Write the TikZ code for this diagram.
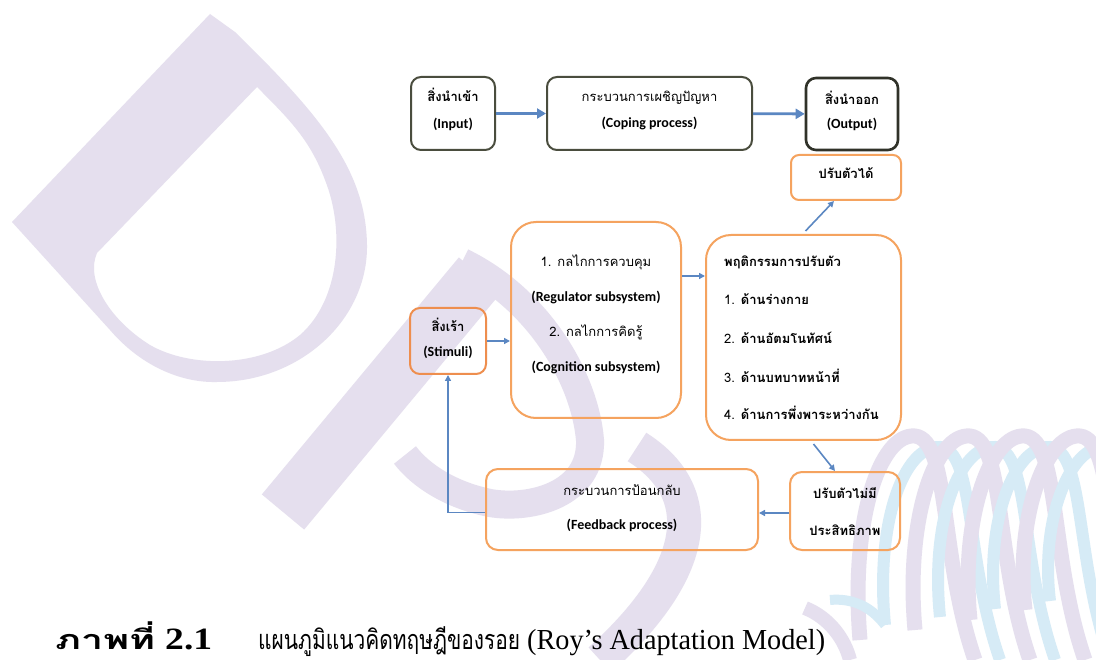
\documentclass[tikz,border=0pt]{standalone}
\usepackage{fontspec}
\usepackage{graphicx}
\setmainfont{Carlito}
\newfontfamily\thaif[Script=Thai]{Loma}
\newfontfamily\capserif{Liberation Serif}
\usetikzlibrary{arrows.meta,calc}
\definecolor{darkbox}{HTML}{4A4D3E}
\definecolor{outbox}{HTML}{303229}
\definecolor{orng}{HTML}{F5A35F}
\definecolor{orngdk}{HTML}{EE8E4E}
\definecolor{arrowblue}{HTML}{5B87C2}
\definecolor{wmlav}{HTML}{E5DFEE}
\definecolor{wmblue}{HTML}{D6EBF6}
\begin{document}
\begin{tikzpicture}[x=1pt,y=-1pt,
  darkstyle/.style={draw=darkbox,line width=2pt,rounded corners=10pt,inner sep=0pt},
  orstyle/.style={draw=orng,line width=2pt,inner sep=0pt},
  lbl/.style={inner sep=0pt,anchor=base,font=\fontsize{14}{16}\selectfont\bfseries},
  thlbl/.style={inner sep=0pt,anchor=base,font=\thaif\fontsize{13}{15}\selectfont},
  thbold/.style={thlbl,font=\thaif\fontsize{13}{15}\selectfont\bfseries},
  bigarrow/.style={draw=arrowblue,line width=2.8pt,-{Triangle[length=9pt,width=10pt]}},
  thinarrow/.style={draw=arrowblue,line width=1.6pt,-{Triangle[length=6pt,width=6pt]}},
  wm/.style={wmlav,line width=#1},
]
\useasboundingbox (0,0) rectangle (1096,660);
\fill[white] (0,0) rectangle (1096,660);
% ---------- watermark ----------
\fill[wmlav,even odd rule]
  (210,14) -- (12,222) -- (110,330) .. controls (140,365) and (180,383) .. (217,382)
  .. controls (300,382) and (368,320) .. (367,245) .. controls (366,170) and (320,115) .. (235,32) -- cycle
  (257,87) -- (97,253) .. controls (85,280) and (110,320) .. (150,345)
  .. controls (190,368) and (260,368) .. (300,335) .. controls (340,300) and (345,230) .. (325,180)
  .. controls (310,140) and (290,120) .. (257,87) -- cycle;
\draw[wm=55pt] (480,275) -- (283,512);
\draw[wm=28pt] (462,262) .. controls (540,300) and (585,380) .. (590,440)
  .. controls (592,495) and (530,510) .. (490,503) .. controls (450,495) and (420,475) .. (405,455);
\draw[wm=34pt] (637,447) .. controls (705,490) and (705,565) .. (600,660);
\foreach \i in {0,1,2,3} {
  \draw[wmblue,line width=12pt] ({885+55*\i},{625-8*\i}) .. controls ({875+55*\i},520) and ({905+55*\i},445) .. ({940+55*\i},447)
     .. controls ({975+55*\i},450) and ({965+55*\i},560) .. ({1000+55*\i},660);
  \draw[wmlav,line width=15pt] ({860+55*\i},{640-10*\i}) .. controls ({850+55*\i},520) and ({880+55*\i},433) .. ({915+55*\i},436)
     .. controls ({950+55*\i},440) and ({940+55*\i},560) .. ({975+55*\i},660);
}
\draw[wmblue,line width=10pt] (885,625) .. controls (870,605) and (850,598) .. (830,600);
\draw[wm=14pt] (805,608) .. controls (830,618) and (845,640) .. (850,660);
% ---------- boxes ----------
\node[darkstyle,minimum width=84pt,minimum height=73pt] (in) at (453,113.5) {};
\node[darkstyle,minimum width=205pt,minimum height=73pt] (cope) at (649.5,113.5) {};
\node[darkstyle,draw=outbox,line width=2.6pt,minimum width=92pt,minimum height=72pt] (out) at (852,114) {};
\node[orstyle,rounded corners=8pt,minimum width=110pt,minimum height=45pt] (good) at (846,177.5) {};
\node[orstyle,rounded corners=25pt,minimum width=170pt,minimum height=196pt] (mech) at (596,320) {};
\node[orstyle,rounded corners=25pt,minimum width=195pt,minimum height=205pt] (beh) at (803.5,337.5) {};
\node[orstyle,draw=orngdk,rounded corners=10pt,minimum width=76pt,minimum height=66pt] (stim) at (448,341) {};
\node[orstyle,rounded corners=12pt,minimum width=110pt,minimum height=78pt] (bad) at (845,511) {};
\node[orstyle,rounded corners=12pt,minimum width=272pt,minimum height=81pt] (fb) at (622,509.5) {};
% ---------- labels ----------
\node[thbold] (in1) at (453,102) {สิ่งนำเข้า};
\node[lbl] (in2) at (453,129) {(Input)};
\node[thlbl] (cp1) at (649.5,102) {กระบวนการเผชิญปัญหา};
\node[lbl] (cp2) at (649.5,128) {(Coping process)};
\node[thbold] (ot1) at (852,105) {สิ่งนำออก};
\node[lbl] (ot2) at (852,129) {(Output)};
\node[thbold] (gd1) at (846,179) {ปรับตัวได้};
\node[thlbl] (mc1) at (596,267) {1. กลไกการควบคุม};
\node[lbl] (mc2) at (596,302) {(Regulator subsystem)};
\node[thlbl] (mc3) at (596,337) {2. กลไกการคิดรู้};
\node[lbl] (mc4) at (596,372) {(Cognition subsystem)};
\node[thbold,anchor=base west] (bh0) at (724,267) {พฤติกรรมการปรับตัว};
\node[thbold,anchor=base west] (bh1) at (724,305) {{\mdseries 1.} ด้านร่างกาย};
\node[thbold,anchor=base west] (bh2) at (724,344) {{\mdseries 2.} ด้านอัตมโนทัศน์};
\node[thbold,anchor=base west] (bh3) at (724,383) {{\mdseries 3.} ด้านบทบาทหน้าที่};
\node[thbold,anchor=base west] (bh4) at (724,420) {{\mdseries 4.} ด้านการพึ่งพาระหว่างกัน};
\node[thbold] (st1) at (448,332) {สิ่งเร้า};
\node[lbl] (st2) at (448,357) {(Stimuli)};
\node[thbold] (bd1) at (845,498) {ปรับตัวไม่มี};
\node[thbold] (bd2) at (845,535) {ประสิทธิภาพ};
\node[thlbl] (fb1) at (622,496) {กระบวนการป้อนกลับ};
\node[lbl] (fb2) at (622,529) {(Feedback process)};
% ---------- connectors ----------
\draw[bigarrow] (in) -- (cope);
\draw[bigarrow] (cope) -- (out);
\draw[thinarrow] ([xshift=2pt,yshift=3pt]beh.north) -- ([xshift=-12pt]good.south);
\draw[thinarrow] ([yshift=44pt]mech.east) -- ([yshift=44pt]mech.east -| beh.west);
\draw[thinarrow] (stim.east) -- (stim.east -| mech.west);
\draw[thinarrow] ([xshift=10pt,yshift=-3pt]beh.south) -- ([xshift=-10pt]bad.north);
\draw[thinarrow] ([yshift=-2pt]bad.west) -- ([yshift=-2pt]bad.west -| fb.east);
\draw[thinarrow] ([yshift=-3pt]fb.west) -| (stim.south);
% ---------- caption ----------
\node[inner sep=0pt,anchor=base west] (capa) at (55,649)
  {\resizebox{100pt}{\height}{\thaif\bfseries\fontsize{27}{29}\selectfont ภาพที่}};
\node[inner sep=0pt,anchor=base west] (capb) at (165,649)
  {\resizebox{47pt}{\height}{\capserif\bfseries\fontsize{31}{33}\selectfont 2.1}};
\node[inner sep=0pt,anchor=base west] (capc) at (258,649)
  {\resizebox{262pt}{\height}{\thaif\fontsize{27}{29}\selectfont แผนภูมิแนวคิดทฤษฎีของรอย}};
\node[inner sep=0pt,anchor=base west] (capd) at (527,649)
  {\resizebox{298pt}{\height}{\capserif\fontsize{29}{31}\selectfont (Roy’s Adaptation Model)}};
\end{tikzpicture}
\end{document}
